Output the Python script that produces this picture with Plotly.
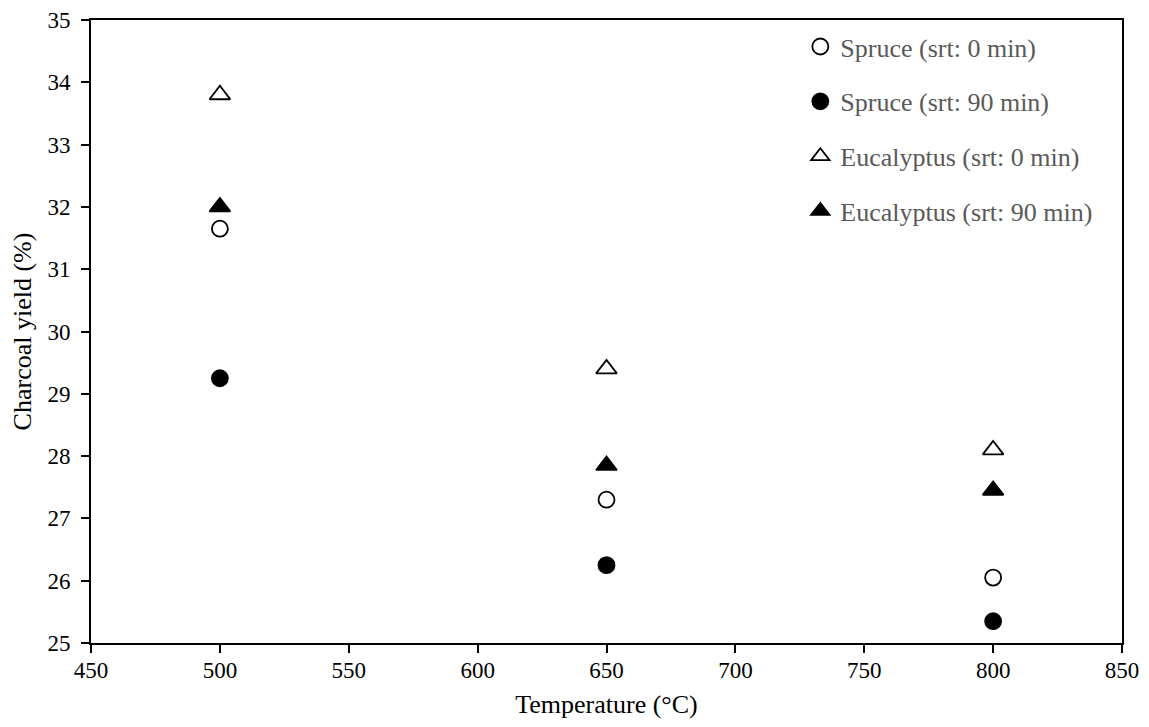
import plotly.graph_objects as go

temperature = [500, 650, 800]
spruce_0 = [31.65, 27.3, 26.05]
spruce_90 = [29.25, 26.25, 25.35]
euc_0 = [33.8, 29.4, 28.1]
euc_90 = [32.0, 27.85, 27.45]

series = [
    ("Spruce (srt: 0 min)", spruce_0, "circle-open"),
    ("Spruce (srt: 90 min)", spruce_90, "circle"),
    ("Eucalyptus (srt: 0 min)", euc_0, "triangle-up-open"),
    ("Eucalyptus (srt: 90 min)", euc_90, "triangle-up"),
]

FONT = "Liberation Serif, Times New Roman, serif"
fig = go.Figure()
for i, (name, ys, sym) in enumerate(series):
    fig.add_trace(go.Scatter(
        x=temperature, y=ys, mode="markers", name=name,
        legendgroup=str(i),
        marker=dict(symbol=sym, size=16 if "circle" in sym else 18, color="black",
                    line=dict(color="black", width=1.8)),
    ))

axis_common = dict(
    showline=True, linecolor="black", linewidth=2, mirror=True,
    ticks="outside", ticklen=8, tickwidth=2, tickcolor="black",
    showgrid=False, zeroline=False, automargin=False,
    tickfont=dict(family=FONT, size=23, color="black"),
)
fig.update_xaxes(range=[450, 850], dtick=50, ticklabelstandoff=-3,
                 title=dict(text="Temperature (°C)", font=dict(family=FONT, size=26, color="black"), standoff=13),
                 **axis_common)
fig.update_yaxes(range=[25, 35], dtick=1, ticklabelstandoff=6,
                 title=dict(text="Charcoal yield (%)", font=dict(family=FONT, size=26, color="black"), standoff=8),
                 **axis_common)

fig.update_layout(
    width=1149, height=727,
    margin=dict(l=91, r=27, t=20, b=84),
    plot_bgcolor="white", paper_bgcolor="white",
    legend=dict(x=0.688, y=0.995, xanchor="left", yanchor="top",
                font=dict(family=FONT, size=26, color="#595959"),
                bgcolor="rgba(0,0,0,0)", tracegroupgap=18, itemwidth=30),
    font=dict(family=FONT),
)
fig.write_html("out.html")
